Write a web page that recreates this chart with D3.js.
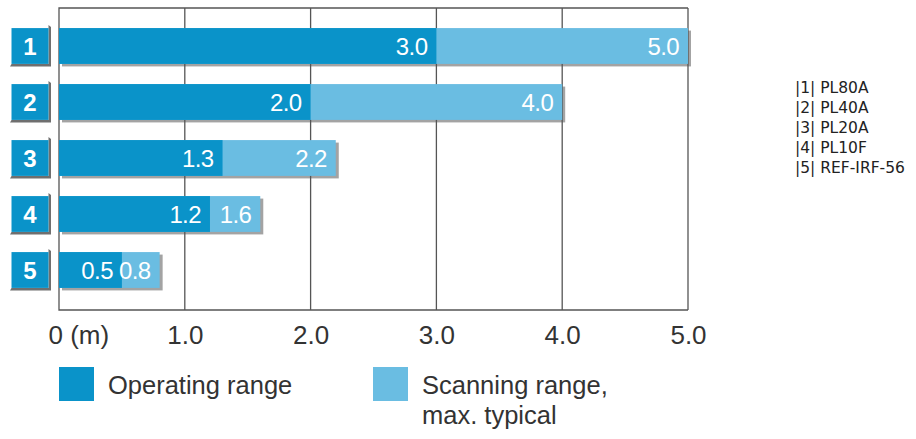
<!DOCTYPE html>
<html><head><meta charset="utf-8">
<script src="https://cdn.jsdelivr.net/npm/d3@7"></script>
<style>
html,body{margin:0;padding:0;background:#fff;}
svg{display:block;}
</style></head>
<body>
<svg id="chart" width="916" height="439"></svg>
<script>
const categories = ["1", "2", "3", "4", "5"];
const operatingRange = [3.0, 2.0, 1.3, 1.2, 0.5];
const scanningRange = [5.0, 4.0, 2.2, 1.6, 0.8];
const tickValues = [0, 1, 2, 3, 4, 5];
const tickLabels = ["0 (m)", "1.0", "2.0", "3.0", "4.0", "5.0"];
const productNames = ["|1| PL80A", "|2| PL40A", "|3| PL20A", "|4| PL10F", "|5| REF-IRF-56"];
const legendLabels = [["Operating range"], ["Scanning range,", "max. typical"]];

const darkBlue = "#0a93c9", lightBlue = "#6abde2", shadow = "#a3a3a3", gridCol = "#555555";
const fontMain = "'Liberation Sans', Arial, sans-serif";

const svg = d3.select("#chart");
const x = d3.scaleLinear().domain([0, 5]).range([59, 688]);
const y = d3.scaleBand().domain(categories).range([18, 298]).paddingInner(0.36).paddingOuter(0.18);
const plotTop = 8, plotBottom = 310;

const data = categories.map((c, i) => ({c, op: operatingRange[i], sc: scanningRange[i]}));

// bar shadows
svg.append("g").selectAll("rect").data(data).join("rect")
  .attr("x", x(0) + 3).attr("y", d => y(d.c) + 2.5)
  .attr("width", d => x(d.sc) - x(0)).attr("height", y.bandwidth())
  .attr("fill", shadow);

// grid lines
svg.append("g").selectAll("line").data(tickValues.slice(1)).join("line")
  .attr("x1", d => x(d)).attr("x2", d => x(d)).attr("y1", plotTop).attr("y2", plotBottom)
  .attr("stroke", gridCol).attr("stroke-width", 1.3);

// frame top, left, bottom
svg.append("path")
  .attr("d", `M${x(5)},${plotTop} H${x(0)} V${plotBottom} H${x(5)}`)
  .attr("fill", "none").attr("stroke", gridCol).attr("stroke-width", 1.3);

// scanning bars (light)
svg.append("g").selectAll("rect").data(data).join("rect")
  .attr("x", x(0)).attr("y", d => y(d.c))
  .attr("width", d => x(d.sc) - x(0)).attr("height", y.bandwidth())
  .attr("fill", lightBlue);

// operating bars (dark)
svg.append("g").selectAll("rect").data(data).join("rect")
  .attr("x", x(0)).attr("y", d => y(d.c))
  .attr("width", d => x(d.op) - x(0)).attr("height", y.bandwidth())
  .attr("fill", darkBlue);

// value labels
const fmt = d3.format(".1f");
svg.append("g").selectAll("text").data(data).join("text")
  .attr("x", d => x(d.op) - 9).attr("y", d => y(d.c) + y.bandwidth() / 2)
  .attr("dy", "0.36em").attr("text-anchor", "end")
  .attr("fill", "#fff").attr("font-family", fontMain).attr("font-size", 24).attr("letter-spacing", -0.6)
  .text(d => fmt(d.op));
svg.append("g").selectAll("text").data(data).join("text")
  .attr("x", d => x(d.sc) - 9).attr("y", d => y(d.c) + y.bandwidth() / 2)
  .attr("dy", "0.36em").attr("text-anchor", "end")
  .attr("fill", "#fff").attr("font-family", fontMain).attr("font-size", 24).attr("letter-spacing", -0.6)
  .text(d => fmt(d.sc));

// category boxes
const bx = 11.5, bw = 37;
const boxes = svg.append("g");
boxes.selectAll("path").data(categories).join("path")
  .attr("d", c => {
    const t = y(c), h = y.bandwidth();
    return `M${bx + bw},${t - 3} L${bx + bw + 2.5},${t - 1} V${t + h + 2.5} H${bx - 1.5} L${bx},${t + h} H${bx + bw} Z`;
  })
  .attr("fill", "#6f6f6f");
boxes.selectAll("rect").data(categories).join("rect")
  .attr("x", bx).attr("y", c => y(c)).attr("width", bw).attr("height", y.bandwidth())
  .attr("fill", darkBlue);
boxes.selectAll("text").data(categories).join("text")
  .attr("x", bx + bw / 2).attr("y", c => y(c) + y.bandwidth() / 2)
  .attr("dy", "0.36em").attr("text-anchor", "middle")
  .attr("fill", "#fff").attr("font-family", fontMain).attr("font-size", 24).attr("font-weight", "bold")
  .text(c => c);

// x axis
const axis = d3.axisBottom(x).tickValues(tickValues).tickSize(0).tickPadding(0)
  .tickFormat((d, i) => tickLabels[i]);
const ag = svg.append("g").attr("transform", `translate(0,${plotBottom})`).call(axis);
ag.select(".domain").remove();
ag.selectAll("text")
  .attr("y", 34).attr("dy", 0)
  .attr("font-family", fontMain).attr("font-size", 26).attr("fill", "#333");
ag.selectAll(".tick").filter(d => d === 0).select("text")
  .attr("text-anchor", "start").attr("x", -11);

// bottom legend
const legend = svg.append("g");
const legX = [59, 373];
const legColors = [darkBlue, lightBlue];
legendLabels.forEach((lines, i) => {
  legend.append("rect").attr("x", legX[i]).attr("y", 367).attr("width", 35).attr("height", 34)
    .attr("fill", legColors[i]);
  const t = legend.append("text").attr("x", legX[i] + 49).attr("y", 394)
    .attr("font-family", fontMain).attr("font-size", 25.5).attr("fill", "#333");
  lines.forEach((l, j) => t.append("tspan").attr("x", legX[i] + 49).attr("dy", j ? 30 : 0).text(l));
});

// product list
svg.append("g").selectAll("text").data(productNames).join("text")
  .attr("x", 795).attr("y", (d, i) => 93 + i * 20)
  .attr("font-family", "'DejaVu Sans', Verdana, sans-serif").attr("font-size", 15.5)
  .attr("fill", "#222").text(d => d);
</script>
</body></html>
